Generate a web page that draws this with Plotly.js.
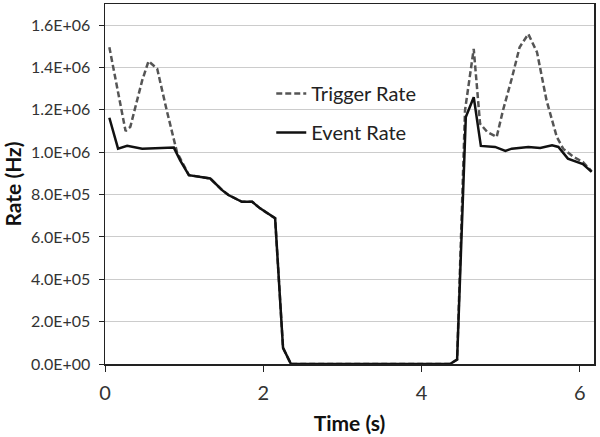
<!DOCTYPE html>
<html>
<head>
<meta charset="utf-8">
<script src="https://cdn.plot.ly/plotly-3.0.1.min.js"></script>
<style>html,body{margin:0;padding:0;background:#fff;}#chart{width:600px;height:437px;}</style>
</head>
<body>
<div id="chart"></div>
<script>
var triggerTime = [0.055, 0.26, 0.32, 0.47, 0.55, 0.66, 0.78, 0.91, 1.06, 1.33, 1.48, 1.56, 1.73, 1.86, 1.96, 2.15, 2.25, 2.35, 4.36, 4.45, 4.55, 4.66, 4.74, 4.83, 4.95, 5.03, 5.14, 5.24, 5.35, 5.46, 5.58, 5.71, 5.79, 5.92, 6.04, 6.15];
var triggerRate = [1.496e6, 1.10e6, 1.12e6, 1.339e6, 1.43e6, 1.394e6, 1.198e6, 1.0e6, 8.92e5, 8.76e5, 8.21e5, 7.98e5, 7.66e5, 7.66e5, 7.35e5, 6.88e5, 7.6e4, 0, 0, 2.1e4, 1.198e6, 1.488e6, 1.135e6, 1.096e6, 1.072e6, 1.198e6, 1.347e6, 1.496e6, 1.558e6, 1.472e6, 1.245e6, 1.072e6, 1.017e6, 9.78e5, 9.54e5, 9.1e5];
var eventTime = [0.055, 0.165, 0.28, 0.47, 0.87, 0.95, 1.06, 1.20, 1.33, 1.48, 1.56, 1.73, 1.86, 1.96, 2.15, 2.25, 2.35, 4.36, 4.45, 4.56, 4.66, 4.75, 4.93, 5.06, 5.14, 5.35, 5.50, 5.65, 5.73, 5.85, 6.04, 6.15];
var eventRate = [1.163e6, 1.017e6, 1.03e6, 1.017e6, 1.022e6, 9.62e5, 8.92e5, 8.82e5, 8.76e5, 8.21e5, 7.98e5, 7.66e5, 7.66e5, 7.35e5, 6.88e5, 7.6e4, 0, 0, 2.1e4, 1.166e6, 1.26e6, 1.03e6, 1.025e6, 1.006e6, 1.017e6, 1.025e6, 1.02e6, 1.033e6, 1.025e6, 9.7e5, 9.44e5, 9.07e5];
var yTickVals = [0, 2e5, 4e5, 6e5, 8e5, 1e6, 1.2e6, 1.4e6, 1.6e6];
var yTickText = ["0.0E+00", "2.0E+05", "4.0E+05", "6.0E+05", "8.0E+05", "1.0E+06", "1.2E+06", "1.4E+06", "1.6E+06"];
var xTickVals = [0, 2, 4, 6];
var xTickText = ["0", "2", "4", "6"];

var FONT = "Lato, 'Open Sans', sans-serif";
var traces = [
  {x: triggerTime, y: triggerRate, name: "Trigger Rate", mode: "lines", legendgroup: "a",
   line: {color: "#555555", width: 2.5, dash: "6px,3px"}},
  {x: eventTime, y: eventRate, name: "Event Rate", mode: "lines", legendgroup: "b",
   line: {color: "#111111", width: 2.5}}
];
var layout = {
  width: 600, height: 437,
  margin: {l: 105, r: 6, t: 4, b: 73},
  paper_bgcolor: "#fff", plot_bgcolor: "#fff",
  font: {family: FONT, color: "#222"},
  showlegend: true,
  legend: {x: 0.34, y: 0.697, xanchor: "left", yanchor: "middle", bgcolor: "rgba(0,0,0,0)",
           font: {size: 20, family: FONT, color: "#222"}, tracegroupgap: 10, itemwidth: 30},
  xaxis: {range: [0, 6.18], tickvals: xTickVals, ticktext: xTickText, ticks: "outside", ticklen: 6,
          tickcolor: "#222", tickfont: {size: 20, color: "#333"}, ticklabelstandoff: 4,
          showgrid: false, zeroline: false,
          showline: true, mirror: true, linecolor: "#222", linewidth: 1.5,
          title: {text: "<b>Time (s)</b>", font: {size: 21, color: "#111"}, standoff: 14}},
  yaxis: {range: [0, 1.7e6], tickvals: yTickVals, ticktext: yTickText, ticks: "outside", ticklen: 5,
          tickcolor: "#222", tickfont: {size: 16, color: "#333"}, ticklabelstandoff: 5,
          showgrid: true, gridcolor: "#cccccc", gridwidth: 1,
          zeroline: false, showline: true, mirror: true, linecolor: "#222", linewidth: 1.5,
          title: {text: "<b>Rate (Hz)</b>", font: {size: 21, color: "#111"}, standoff: 4}}
};
Plotly.newPlot("chart", traces, layout, {displayModeBar: false, staticPlot: true});
</script>
</body>
</html>
